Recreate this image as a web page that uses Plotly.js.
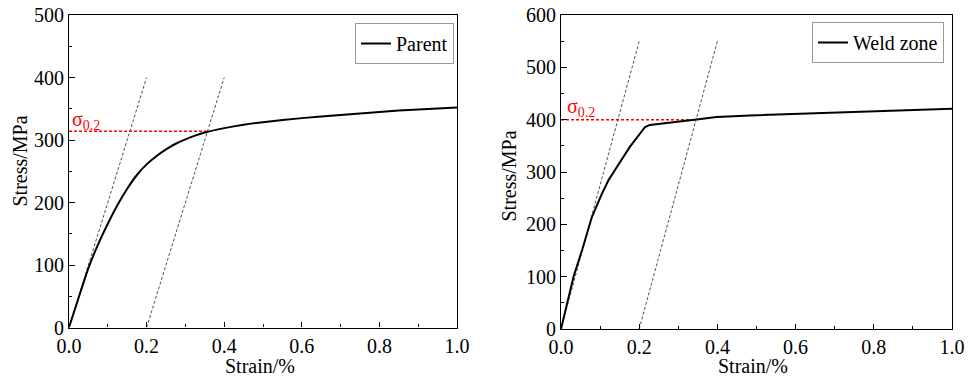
<!DOCTYPE html>
<html>
<head>
<meta charset="utf-8">
<script src="https://cdn.plot.ly/plotly-3.0.1.min.js"></script>
</head>
<body style="margin:0;background:#fff">
<div id="chart"></div>
<script>
// ---- Data ----
const parentStrain = [0, 0.025, 0.05, 0.075, 0.1, 0.125, 0.15, 0.175, 0.2, 0.225, 0.25, 0.275, 0.3, 0.325, 0.35, 0.4, 0.45, 0.5, 0.6, 0.7, 0.8, 0.9, 1.0];
const parentStress = [0, 48, 95, 133, 166, 196, 222, 244, 261, 274, 285, 294, 301, 307, 312, 319, 324.5, 328.5, 335, 340, 345, 349, 352];

const weldStrain = [0, 0.032, 0.054, 0.079, 0.105, 0.122, 0.138, 0.176, 0.215, 0.227, 0.347, 0.398, 0.483, 0.6, 0.8, 1.0];
const weldStress = [0, 100, 151, 214, 259, 285, 304, 348, 386, 390, 400.5, 405, 408, 411, 416, 421];

// elastic (modulus) lines and 0.2% offset lines
const parentElasticStrain = [0, 0.2];
const parentOffsetStrain = [0.2, 0.4];
const parentLineStress = [0, 400];
const weldElasticStrain = [0, 0.2];
const weldOffsetStrain = [0.2, 0.4];
const weldLineStress = [0, 550];

// proof stress sigma 0.2
const parentSigmaStrain = [0, 0.356];
const parentSigmaStress = [314, 314];
const weldSigmaStrain = [0, 0.345];
const weldSigmaStress = [400, 400];

const parentName = "Parent";
const weldName = "Weld zone";
const xTitle = "Strain/%";
const yTitle = "Stress/MPa";
const sigmaLabel = "σ<sub>0.2</sub>";

// ---- Layout helpers (pixel -> paper) ----
const W = 977, H = 379;
const toPX = x => x / W;
const toPY = y => 1 - y / H;

const FAM = "Liberation Serif";
const FS = 20;
const dashBlack = {color: "#222", width: 0.8, dash: "3px,2px"};
const dashRed = {color: "#ff0000", width: 1.5, dash: "3px,2px"};

const traces = [
  {x: parentElasticStrain, y: parentLineStress, xaxis: "x", yaxis: "y", mode: "lines", line: dashBlack, showlegend: false, hoverinfo: "skip"},
  {x: parentOffsetStrain, y: parentLineStress, xaxis: "x", yaxis: "y", mode: "lines", line: dashBlack, showlegend: false, hoverinfo: "skip"},
  {x: parentSigmaStrain, y: parentSigmaStress, xaxis: "x", yaxis: "y", mode: "lines", line: dashRed, showlegend: false},
  {x: parentStrain, y: parentStress, xaxis: "x", yaxis: "y", mode: "lines", name: parentName, line: {color: "#000", width: 2, shape: "spline", smoothing: 0.5}, legend: "legend"},

  {x: weldElasticStrain, y: weldLineStress, xaxis: "x2", yaxis: "y2", mode: "lines", line: dashBlack, showlegend: false, hoverinfo: "skip"},
  {x: weldOffsetStrain, y: weldLineStress, xaxis: "x2", yaxis: "y2", mode: "lines", line: dashBlack, showlegend: false, hoverinfo: "skip"},
  {x: weldSigmaStrain, y: weldSigmaStress, xaxis: "x2", yaxis: "y2", mode: "lines", line: dashRed, showlegend: false},
  {x: weldStrain, y: weldStress, xaxis: "x2", yaxis: "y2", mode: "lines", name: weldName, line: {color: "#000", width: 2}, legend: "legend2"}
];

function xAxis(domain, anchor) {
  return {
    domain: domain, anchor: anchor, range: [0, 1.0], dtick: 0.2, tick0: 0,
    tickformat: ".1f", ticks: "inside", ticklen: 5, tickwidth: 1, tickcolor: "#000",
    minor: {ticks: "inside", ticklen: 3, dtick: 0.1, tickcolor: "#000", tickwidth: 1},
    showline: true, linecolor: "#000", linewidth: 1.2, mirror: true,
    showgrid: false, zeroline: false, tickfont: {family: FAM, size: FS, color: "#000"},
    fixedrange: true
  };
}
function yAxis(domain, anchor, max) {
  return {
    domain: domain, anchor: anchor, range: [0, max], dtick: 100, tick0: 0,
    ticks: "inside", ticklen: 6, tickwidth: 1, tickcolor: "#000",
    minor: {ticks: "inside", ticklen: 3, dtick: 50, tickcolor: "#000", tickwidth: 1},
    showline: true, linecolor: "#000", linewidth: 1.2, mirror: true,
    showgrid: false, zeroline: false, tickfont: {family: FAM, size: FS, color: "#000"},
    fixedrange: true
  };
}

const layout = {
  width: W, height: H,
  margin: {l: 0, r: 0, t: 0, b: 0},
  paper_bgcolor: "#fff", plot_bgcolor: "#fff",
  font: {family: FAM, size: FS, color: "#000"},
  xaxis: xAxis([toPX(69), toPX(457)], "y"),
  yaxis: yAxis([toPY(327.5), toPY(15)], "x", 500),
  xaxis2: xAxis([toPX(561), toPX(952)], "y2"),
  yaxis2: yAxis([toPY(329), toPY(15)], "x2", 600),
  legend: {x: toPX(355), y: toPY(23), xanchor: "left", yanchor: "top", bgcolor: "#fff",
           bordercolor: "#999", borderwidth: 1, font: {family: FAM, size: FS, color: "#000"}},
  legend2: {x: toPX(812), y: toPY(22), xanchor: "left", yanchor: "top", bgcolor: "#fff",
           bordercolor: "#999", borderwidth: 1, font: {family: FAM, size: FS, color: "#000"}},
  annotations: [
    {text: yTitle, xref: "paper", yref: "paper", x: toPX(19), y: toPY(161.5), textangle: -90, showarrow: false, xanchor: "center", yanchor: "middle", font: {family: FAM, size: FS, color: "#000"}},
    {text: yTitle, xref: "paper", yref: "paper", x: toPX(508), y: toPY(176.5), textangle: -90, showarrow: false, xanchor: "center", yanchor: "middle", font: {family: FAM, size: FS, color: "#000"}},
    {text: xTitle, xref: "paper", yref: "paper", x: toPX(260), y: toPY(366), showarrow: false, xanchor: "center", yanchor: "middle", font: {family: FAM, size: FS, color: "#000"}},
    {text: xTitle, xref: "paper", yref: "paper", x: toPX(753), y: toPY(366), showarrow: false, xanchor: "center", yanchor: "middle", font: {family: FAM, size: FS, color: "#000"}},
    {text: sigmaLabel, xref: "paper", yref: "paper", x: toPX(70), y: toPY(121), showarrow: false, xanchor: "left", yanchor: "middle", font: {family: FAM, size: FS, color: "#ff0000"}},
    {text: sigmaLabel, xref: "paper", yref: "paper", x: toPX(565), y: toPY(107), showarrow: false, xanchor: "left", yanchor: "middle", font: {family: FAM, size: FS, color: "#ff0000"}}
  ]
};

Plotly.newPlot("chart", traces, layout, {displayModeBar: false});
</script>
</body>
</html>
